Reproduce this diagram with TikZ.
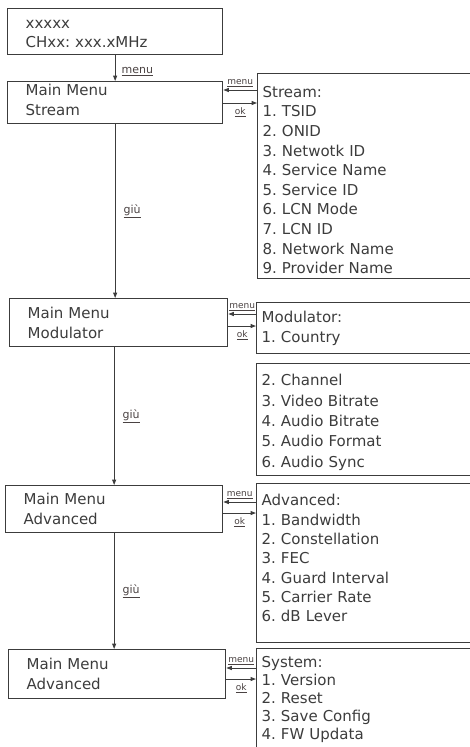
\documentclass[tikz,border=0pt]{standalone}
\usepackage{fontspec}
\setmainfont{DejaVu Sans}
\usepackage{tikz}
\usetikzlibrary{arrows.meta}
\usepackage{xcolor}
\definecolor{ink}{HTML}{3C3C3C}
\definecolor{lblink}{HTML}{4A4242}
\frenchspacing
% struts to nudge a text block inside its box
\newcommand{\pushdown}[1]{\rule{0pt}{#1}}
\newcommand{\pushup}[1]{\rule[-#1]{0pt}{#1}}

\begin{document}
\begin{tikzpicture}[x=1pt,y=-1pt,
    mainbox/.style={draw=ink,line width=1.3pt,anchor=north west,inner xsep=18pt,
      inner ysep=0pt,align=left,text=ink,font=\fontsize{15}{19.6}\selectfont},
    listbox/.style={draw=ink,line width=1.3pt,anchor=north west,inner xsep=5pt,
      inner ysep=0pt,align=left,text=ink,minimum width=235pt,text width=225pt,
      font=\fontsize{15}{19.6}\selectfont},
    arr/.style={draw=ink,line width=1pt,-{Triangle[length=5.5pt,width=4pt]}},
    lbl/.style={text=lblink,inner sep=2.5pt,font=\fontsize{9}{10}\selectfont},
    biglbl/.style={text=lblink,inner sep=4pt,font=\fontsize{11}{12}\selectfont}]
        \useasboundingbox (0,0) rectangle (470,747);
        \clip (0,0) rectangle (470,747);
        % left column
        \node[mainbox,minimum width=215pt,text width=179pt,minimum height=46pt] (start) at (7,8) {\pushdown{13pt}xxxxx\\CHxx: xxx.xMHz};
        \node[mainbox,minimum width=215pt,text width=179pt,minimum height=42pt] (stream) at (7,81) {Main Menu\\Stream\pushup{6pt}};
        \node[mainbox,minimum width=218pt,text width=182pt,minimum height=48pt] (modulator) at (9,298) {Main Menu\\Modulator};
        \node[mainbox,minimum width=217pt,text width=181pt,minimum height=47pt] (advanced) at (5,485) {Main Menu\\Advanced};
        \node[mainbox,minimum width=217pt,text width=181pt,minimum height=49pt] (system) at (8,649) {Main Menu\\Advanced};
        % right column
        \node[listbox,minimum height=205pt] (streamlist) at (257,73) {\pushdown{19pt}Stream:\\1. TSID\\2. ONID\\3. Netwotk ID\\4. Service Name\\5. Service ID\\6. LCN Mode\\7. LCN ID\\8. Network Name\\9. Provider Name};
        \node[listbox,minimum height=51pt] (modlist) at (256,302) {Modulator:\\1. Country};
        \node[listbox,minimum height=112pt,font=\fontsize{15}{20.4}\selectfont] (modlistb) at (256,363) {\pushdown{17pt}2. Channel\\3. Video Bitrate\\4. Audio Bitrate\\5. Audio Format\\6. Audio Sync};
        \node[listbox,minimum height=159pt,font=\fontsize{15}{19.3}\selectfont] (advlist) at (256,483) {Advanced:\\1. Bandwidth\\2. Constellation\\3. FEC\\4. Guard Interval\\5. Carrier Rate\\6. dB Lever\pushup{10pt}};
        \node[listbox,minimum height=102pt,inner xsep=2pt,font=\fontsize{15}{18}\selectfont] (syslist) at (256,648) {System:\\1. Version\\2. Reset\\3. Save Config\\4. FW Updata};
        % down the menu
        \draw[arr] (start.south) -- (start.south |- stream.north) node[biglbl,right,midway,xshift=2pt,yshift=-3pt] {\underline{menu}};
        \draw[arr] (stream.south) -- (stream.south |- modulator.north) node[biglbl,right,midway,xshift=4pt] {\underline{giù}};
        \draw[arr] (advanced.north |- modulator.south) -- (advanced.north) node[biglbl,right,midway,xshift=4pt] {\underline{giù}};
        \draw[arr] (advanced.south) -- (advanced.south |- system.north) node[biglbl,right,midway,xshift=4pt] {\underline{giù}};
        % menu / ok
        \draw[arr] (streamlist.west |- 0,90) -- (stream.east |- 0,90) node[lbl,above,midway] {\underline{menu}};
        \draw[arr] (stream.east |- 0,103) -- (streamlist.west |- 0,103) node[lbl,below,midway,yshift=-2pt] {\underline{ok}};
        \draw[arr] (modlist.west |- 0,314) -- (modulator.east |- 0,314) node[lbl,above,midway] {\underline{menu}};
        \draw[arr] (modulator.east |- 0,326) -- (modlist.west |- 0,326) node[lbl,below,midway,yshift=-2pt] {\underline{ok}};
        \draw[arr] (advlist.west |- 0,502) -- (advanced.east |- 0,502) node[lbl,above,midway] {\underline{menu}};
        \draw[arr] (advanced.east |- 0,513) -- (advlist.west |- 0,513) node[lbl,below,midway,yshift=-2pt] {\underline{ok}};
        \draw[arr] (syslist.west |- 0,668) -- (system.east |- 0,668) node[lbl,above,midway] {\underline{menu}};
        \draw[arr] (system.east |- 0,679) -- (syslist.west |- 0,679) node[lbl,below,midway,yshift=-2pt] {\underline{ok}};
      \end{tikzpicture}
\end{document}
